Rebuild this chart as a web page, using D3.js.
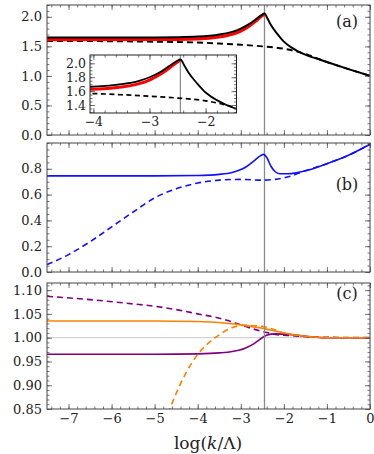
<!DOCTYPE html>
<html>
<head>
<meta charset="utf-8">
<script src="https://cdn.jsdelivr.net/npm/d3@7"></script>
<style>
  body { margin: 0; background: #fff; }
  svg text { font-family: "DejaVu Serif", serif; fill: #222; }
</style>
</head>
<body>
<div id="chart"></div>
<script>
// --- data: [log(k/Lambda), value] ---
var aSolid = [[-7.5,1.65],[-6,1.65],[-5,1.652],[-4.5,1.655],[-4,1.665],[-3.5,1.70],[-3.2,1.745],[-3.0,1.80],
  [-2.8,1.88],[-2.65,1.96],[-2.52,2.03],[-2.45,2.055],[-2.38,1.97],[-2.3,1.86],[-2.15,1.71],[-2.0,1.58],
  [-1.8,1.47],[-1.6,1.39],[-1.43,1.34],[-1.2,1.285],[-1.0,1.235],[-0.5,1.115],[0,1.0]];
var aRed = [[-7.5,1.615],[-5,1.617],[-4,1.627],[-3.5,1.66],[-3.2,1.705],[-3.0,1.76],[-2.8,1.845],
  [-2.65,1.93],[-2.52,2.01],[-2.46,2.04]];
var aDashed = [[-7.5,1.59],[-6,1.587],[-5,1.578],[-4,1.565],[-3.5,1.548],[-3,1.527],[-2.5,1.50],
  [-2,1.46],[-1.5,1.37],[-1.2,1.29],[-1,1.235],[-0.5,1.115],[0,1.0]];

var bSolid = [[-7.5,0.745],[-5,0.745],[-4,0.748],[-3.5,0.757],[-3.2,0.772],[-2.9,0.81],[-2.7,0.86],
  [-2.55,0.9],[-2.47,0.912],[-2.4,0.89],[-2.3,0.82],[-2.2,0.777],[-2.1,0.762],[-1.9,0.762],
  [-1.5,0.785],[-1,0.84],[-0.5,0.905],[0,0.99]];
var bDashed = [[-7.5,0.057],[-7,0.135],[-6.5,0.235],[-6,0.35],[-5.5,0.465],[-5,0.575],[-4.5,0.645],
  [-4,0.69],[-3.5,0.712],[-3,0.718],[-2.5,0.712],[-2.2,0.718],[-1.9,0.738],[-1.5,0.785],
  [-1,0.84],[-0.5,0.905],[0,0.99]];

var cPurpleDashed = [[-7.5,1.087],[-6.5,1.08],[-5.5,1.071],[-5,1.066],[-4.5,1.059],[-4,1.05],[-3.5,1.041],
  [-3,1.027],[-2.7,1.018],[-2.45,1.012],[-2.2,1.007],[-1.8,1.004],[-1.2,1.001],[0,1.0]];
var cPurple = [[-7.5,0.965],[-5,0.965],[-4,0.966],[-3.5,0.968],[-3.2,0.971],[-2.9,0.978],[-2.7,0.987],
  [-2.55,0.997],[-2.4,1.005],[-2.2,1.008],[-1.8,1.006],[-1.5,1.003],[-1,1.0],[0,1.0]];
var cOrange = [[-7.5,1.035],[-5,1.035],[-4,1.034],[-3.5,1.032],[-3,1.027],[-2.45,1.019],[-2.2,1.014],
  [-2,1.01],[-1.5,1.003],[-1,1.0],[0,1.0]];
var cOrangeDashed = [[-5.2,0.70],[-4.9,0.79],[-4.65,0.85],[-4.25,0.93],[-4.0,0.965],[-3.77,0.987],
  [-3.5,1.006],[-3.23,1.02],[-2.92,1.026],[-2.6,1.025],[-2.45,1.023],[-2.2,1.016],[-2,1.01],
  [-1.5,1.003],[-1,1.0],[0,1.0]];

var xTicks = [-7, -6, -5, -4, -3, -2, -1, 0];
var aTicks = [0, 0.5, 1.0, 1.5, 2.0];
var bTicks = [0, 0.2, 0.4, 0.6, 0.8];
var cTicks = [0.85, 0.90, 0.95, 1.00, 1.05, 1.10];
var insetXTicks = [-4, -3, -2];
var insetYTicks = [1.4, 1.6, 1.8, 2.0];
var kCut = -2.45;

var W = 374, H = 454;
var left = 47, right = 370;

var svg = d3.select('#chart').append('svg').attr('width', W).attr('height', H);

var x = d3.scaleLinear().domain([-7.5, 0]).range([left, right]);

var panels = [
  { id: 'a', top: 5,   bottom: 135, domain: [0, 2.2],      ticks: aTicks, minor: 0.1,  fmt: '.1f' },
  { id: 'b', top: 143, bottom: 272, domain: [0, 1.0],      ticks: bTicks, minor: 0.05, fmt: '.1f' },
  { id: 'c', top: 283, bottom: 409, domain: [0.85, 1.115], ticks: cTicks, minor: 0.01, fmt: '.2f' }
];

function rangeStep(a, b, s) {
  var out = [];
  for (var v = Math.ceil(a / s - 1e-6) * s; v <= b + 1e-9; v += s) out.push(+v.toFixed(4));
  return out;
}

function frame(g, xs, ys, opt) {
  var x0 = xs.range()[0], x1 = xs.range()[1];
  var y0 = ys.range()[0], y1 = ys.range()[1];
  var xd = xs.domain(), yd = ys.domain();
  var xMinor = rangeStep(xd[0], xd[1], opt.xMinor);
  var yMinor = rangeStep(yd[0], yd[1], opt.yMinor);

  function ax(axisFn, scale, vals, size, labels, fmt, tx, ty) {
    var a = axisFn(scale).tickValues(vals).tickSize(size).tickPadding(opt.pad || 4);
    a.tickFormat(labels ? fmt : '');
    var gg = g.append('g').attr('transform', 'translate(' + tx + ',' + ty + ')').call(a);
    gg.select('.domain').remove();
    gg.selectAll('line').attr('stroke', '#555').attr('stroke-width', 0.8);
    gg.selectAll('text').attr('font-size', opt.fontSize).attr('fill', '#222')
      .attr('font-family', '"DejaVu Serif", serif');
    return gg;
  }
  // minor ticks
  ax(d3.axisLeft, ys, yMinor, -2.5, false, null, x0, 0);
  ax(d3.axisRight, ys, yMinor, -2.5, false, null, x1, 0);
  ax(d3.axisBottom, xs, xMinor, -2.5, false, null, 0, y0);
  ax(d3.axisTop, xs, xMinor, -2.5, false, null, 0, y1);
  // major ticks
  ax(d3.axisLeft, ys, opt.yTicks, -5, true, d3.format(opt.yFmt), x0, 0);
  ax(d3.axisRight, ys, opt.yTicks, -5, false, null, x1, 0);
  ax(d3.axisBottom, xs, opt.xTicks, -5, opt.xLabels, d3.format('d'), 0, y0);
  ax(d3.axisTop, xs, opt.xTicks, -5, false, null, 0, y1);

  g.append('rect').attr('x', x0).attr('y', y1).attr('width', x1 - x0).attr('height', y0 - y1)
    .attr('fill', 'none').attr('stroke', opt.frameColor || '#444').attr('stroke-width', 1);
}

function curve(g, xs, ys, data, color, width, dash, clipId) {
  var line = d3.line().x(function(d) { return xs(d[0]); }).y(function(d) { return ys(d[1]); })
    .curve(d3.curveMonotoneX);
  g.append('path').datum(data).attr('d', line).attr('fill', 'none')
    .attr('stroke', color).attr('stroke-width', width)
    .attr('stroke-dasharray', dash || null)
    .attr('clip-path', 'url(#' + clipId + ')');
}

var defs = svg.append('defs');
var scales = {};

panels.forEach(function(p) {
  var y = d3.scaleLinear().domain(p.domain).range([p.bottom, p.top]);
  scales[p.id] = y;
  defs.append('clipPath').attr('id', 'clip-' + p.id).append('rect')
    .attr('x', left).attr('y', p.top).attr('width', right - left).attr('height', p.bottom - p.top);
});

// panel (c) reference line at 1
var gc = svg.append('g');
gc.append('line').attr('x1', left).attr('x2', right)
  .attr('y1', scales.c(1)).attr('y2', scales.c(1)).attr('stroke', '#c8c8c8').attr('stroke-width', 1);

// vertical line through all panels
panels.forEach(function(p) {
  svg.append('line').attr('x1', x(kCut)).attr('x2', x(kCut)).attr('y1', p.top).attr('y2', p.bottom)
    .attr('stroke', '#8a8a8a').attr('stroke-width', 1.3);
});

// panel (a)
var ga = svg.append('g');
curve(ga, x, scales.a, aDashed, '#000', 1.9, '6,4', 'clip-a');
curve(ga, x, scales.a, aRed, '#ff0000', 3.2, null, 'clip-a');
curve(ga, x, scales.a, aSolid, '#000', 2, null, 'clip-a');

// panel (b)
var gb = svg.append('g');
curve(gb, x, scales.b, bDashed, '#1010ff', 1.6, '6,4', 'clip-b');
curve(gb, x, scales.b, bSolid, '#1010ff', 1.6, null, 'clip-b');

// panel (c)
curve(gc, x, scales.c, cPurpleDashed, '#800080', 1.6, '6,4', 'clip-c');
curve(gc, x, scales.c, cOrangeDashed, '#ff8000', 1.6, '6,4', 'clip-c');
curve(gc, x, scales.c, cPurple, '#800080', 1.6, null, 'clip-c');
curve(gc, x, scales.c, cOrange, '#ff8000', 1.6, null, 'clip-c');

panels.forEach(function(p) {
  frame(svg.append('g'), x, scales[p.id], {
    xTicks: xTicks, xMinor: 0.2, yTicks: p.ticks, yMinor: p.minor, yFmt: p.fmt,
    xLabels: p.id === 'c', fontSize: 13, pad: 5
  });
});

// inset in panel (a)
var ix = d3.scaleLinear().domain([-4.06, -1.45]).range([90, 236.5]);
var iy = d3.scaleLinear().domain([1.285, 2.12]).range([113, 55]);
defs.append('clipPath').attr('id', 'clip-i').append('rect')
  .attr('x', 90).attr('y', 55).attr('width', 146.5).attr('height', 58);
var gi = svg.append('g');
gi.append('rect').attr('x', 90).attr('y', 55).attr('width', 146.5).attr('height', 58).attr('fill', '#fff');
gi.append('line').attr('x1', ix(kCut)).attr('x2', ix(kCut)).attr('y1', 55).attr('y2', 113)
  .attr('stroke', '#8a8a8a').attr('stroke-width', 1.2);
curve(gi, ix, iy, aDashed, '#000', 1.7, '5,3.5', 'clip-i');
curve(gi, ix, iy, aRed, '#ff0000', 3, null, 'clip-i');
curve(gi, ix, iy, aSolid, '#000', 1.8, null, 'clip-i');
frame(gi, ix, iy, {
  xTicks: insetXTicks, xMinor: 0.2, yTicks: insetYTicks, yMinor: 0.05, yFmt: '.1f',
  xLabels: true, fontSize: 12.5, pad: 4, frameColor: '#222'
});

// panel labels
[['(a)', 27], ['(b)', 190], ['(c)', 299]].forEach(function(l) {
  svg.append('text').attr('x', 347).attr('y', l[1]).attr('text-anchor', 'middle')
    .attr('font-size', 16).text(l[0]);
});

// x axis title
var title = svg.append('text').attr('x', 208).attr('y', 449).attr('text-anchor', 'middle')
  .attr('font-size', 17);
title.append('tspan').text('log(');
title.append('tspan').attr('font-style', 'italic').text('k');
title.append('tspan').text('/Λ)');
</script>
</body>
</html>
